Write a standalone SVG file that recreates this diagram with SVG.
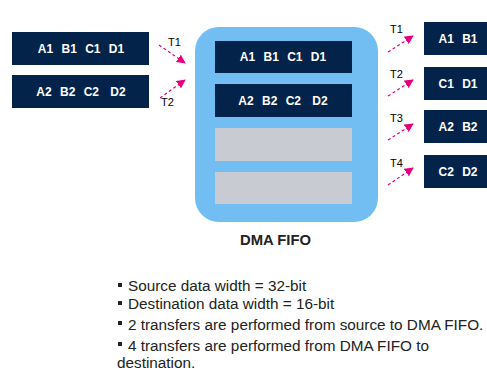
<svg xmlns="http://www.w3.org/2000/svg" width="487" height="373" viewBox="0 0 487 373">
<style>
.box{fill:#03234b}
.bt{fill:#fff;font-family:"Liberation Sans",Arial,sans-serif;font-weight:bold;font-size:12px;text-anchor:middle;word-spacing:5px}
.gray{fill:#c9cbd3}
.lbl{fill:#000;font-family:"Liberation Sans",Arial,sans-serif;font-size:11px}
.arr{stroke:#e6007e;stroke-width:1.2;stroke-dasharray:3,2.5;fill:none;marker-end:url(#ah)}
.bul{fill:#222;font-family:"Liberation Sans",Arial,sans-serif;font-size:15.3px}
</style>
<defs>
<marker id="ah" viewBox="0 0 10 10" refX="9" refY="5" markerWidth="9" markerHeight="9" markerUnits="userSpaceOnUse" orient="auto">
<path d="M0,0 L10,5 L0,10 z" fill="#e6007e"/>
</marker>
</defs>
<rect width="487" height="373" fill="#fff"/>
<g id="src1"><rect class="box" x="12" y="32" width="137" height="33"/><text class="bt" x="81" y="53">A1 B1 C1 D1</text></g>
<g id="src2"><rect class="box" x="12" y="75" width="137" height="33"/><text class="bt" x="81" y="96">A2 B2 C2 <tspan dx="3">D2</tspan></text></g>
<g id="fifo">
<rect x="195" y="27" width="183" height="195" rx="24" fill="#72bdf2"/>
<rect class="box" x="215" y="41" width="137" height="32"/><text class="bt" x="283" y="61">A1 B1 C1 D1</text>
<rect class="box" x="215" y="84" width="137" height="33"/><text class="bt" x="283" y="105">A2 B2 C2 <tspan dx="3">D2</tspan></text>
<rect class="gray" x="215" y="128" width="137" height="33"/>
<rect class="gray" x="215" y="172" width="137" height="32"/>
<text x="275.5" y="245" fill="#222" font-family="Liberation Sans,Arial,sans-serif" font-weight="bold" font-size="14.8" text-anchor="middle">DMA FIFO</text>
</g>
<g id="dst1"><rect class="box" x="424" y="22" width="64" height="33"/><text class="bt" x="458" y="43">A1 B1</text></g>
<g id="dst2"><rect class="box" x="424" y="67" width="64" height="33"/><text class="bt" x="458" y="88">C1 D1</text></g>
<g id="dst3"><rect class="box" x="424" y="110" width="64" height="33"/><text class="bt" x="458" y="131">A2 B2</text></g>
<g id="dst4"><rect class="box" x="424" y="155" width="64" height="33"/><text class="bt" x="458" y="176">C2 D2</text></g>
<g id="connectors">
<path class="arr" d="M159,45 L185,63"/>
<path class="arr" d="M160,98 L185,80"/>
<path class="arr" d="M388,52 L413,36"/>
<path class="arr" d="M388,96 L413,80"/>
<path class="arr" d="M388,140 L413,124"/>
<path class="arr" d="M388,185 L413,168"/>
<text class="lbl" x="168" y="46">T1</text>
<text class="lbl" x="161" y="106">T2</text>
<text class="lbl" x="390" y="33">T1</text>
<text class="lbl" x="390" y="78">T2</text>
<text class="lbl" x="390" y="122">T3</text>
<text class="lbl" x="390" y="167">T4</text>
</g>
<g id="notes">
<rect x="118" y="283" width="4" height="4" fill="#222"/>
<text class="bul" x="128" y="291">Source data width = 32-bit</text>
<rect x="118" y="301" width="4" height="4" fill="#222"/>
<text class="bul" x="128" y="309">Destination data width = 16-bit</text>
<rect x="118" y="321" width="4" height="4" fill="#222"/>
<text class="bul" x="128" y="330">2 transfers are performed from source to DMA FIFO.</text>
<rect x="118" y="342" width="4" height="4" fill="#222"/>
<text class="bul" x="128" y="351">4 transfers are performed from DMA FIFO to</text>
<text class="bul" x="117" y="368">destination.</text>
</g>
</svg>
